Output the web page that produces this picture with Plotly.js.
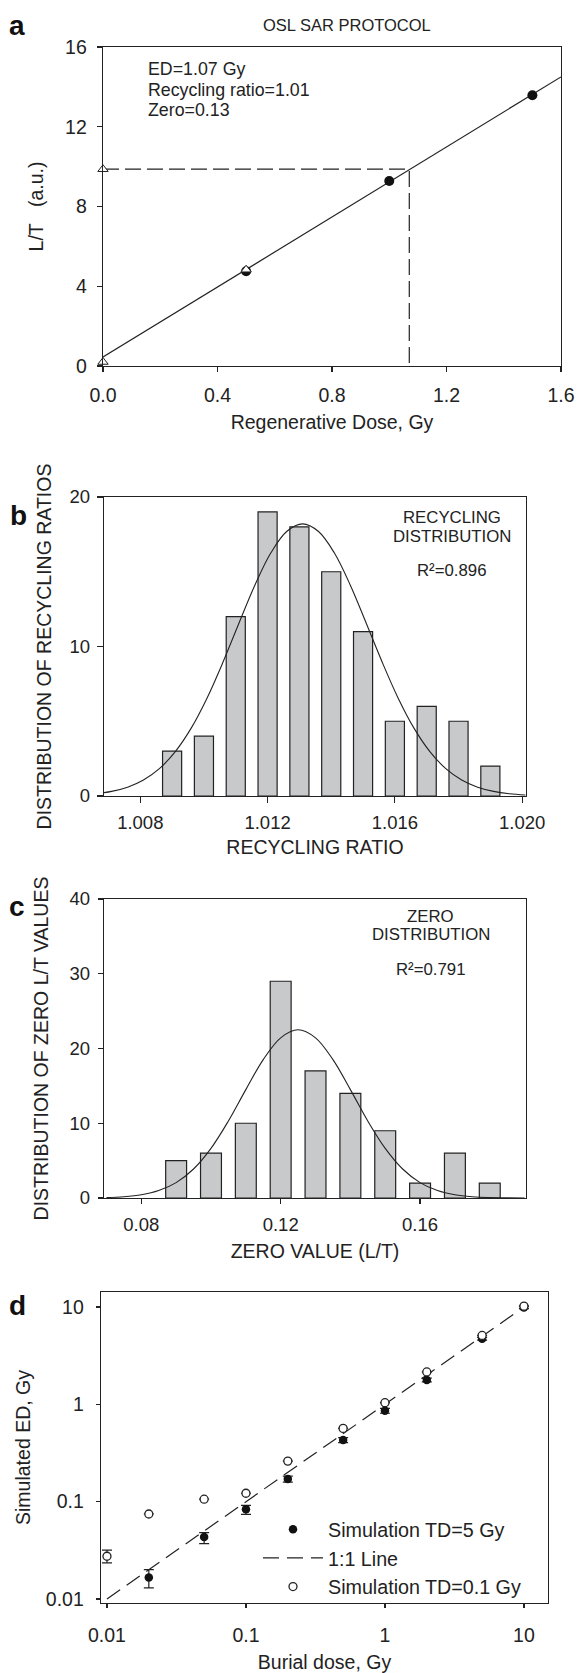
<!DOCTYPE html>
<html><head><meta charset="utf-8">
<script src="https://cdn.plot.ly/plotly-3.0.1.min.js"></script>
<style>html,body{margin:0;padding:0;background:#fff;} #chart{width:577px;height:1673px;}</style>
</head><body><div id="chart"></div>
<script>
// ---------- Panel a : OSL SAR protocol ----------
const regenDose = [0.5, 1.0, 1.5];
const regenLT = [4.75, 9.28, 13.58];
const checkDose = [0, 0.5, 0];
const checkLT = [0.2, 4.83, 9.87];
const fitDose = [0, 1.6];
const fitLT = [0.45, 14.5];
const edDose = 1.07;
const naturalLT = 9.87;
const panelAText = ['ED=1.07 Gy', 'Recycling ratio=1.01', 'Zero=0.13'];

// ---------- Panel b : recycling distribution ----------
const recyclingRatio = [1.009, 1.010, 1.011, 1.012, 1.013, 1.014, 1.015, 1.016, 1.017, 1.018, 1.019];
const recyclingCount = [3, 4, 12, 19, 18, 15, 11, 5, 6, 5, 2];
const recyclingFitX = [1.0066, 1.0071, 1.0076, 1.0081, 1.0086, 1.0091, 1.0096, 1.0101, 1.0106, 1.0111,
  1.0116, 1.0121, 1.0126, 1.0131, 1.0136, 1.0141, 1.0146, 1.0151, 1.0156, 1.0161, 1.0166, 1.0171,
  1.0176, 1.0181, 1.0186, 1.0191, 1.0196, 1.0201];
const recyclingFitY = [0.15, 0.31, 0.59, 1.07, 1.83, 2.97, 4.54, 6.56, 8.96, 11.56,
  14.10, 16.25, 17.69, 18.2, 17.69, 16.25, 14.10, 11.56, 8.96, 6.56, 4.54, 2.97,
  1.83, 1.07, 0.59, 0.31, 0.15, 0.07];

// ---------- Panel c : zero distribution ----------
const zeroValue = [0.09, 0.10, 0.11, 0.12, 0.13, 0.14, 0.15, 0.16, 0.17, 0.18];
const zeroCount = [5, 6, 10, 29, 17, 14, 9, 2, 6, 2];
const zeroFitX = [0.070, 0.075, 0.080, 0.085, 0.090, 0.095, 0.100, 0.105, 0.110, 0.115, 0.120, 0.125,
  0.130, 0.135, 0.140, 0.145, 0.150, 0.155, 0.160, 0.165, 0.170, 0.175, 0.180, 0.185, 0.190];
const zeroFitY = [0.06, 0.17, 0.43, 0.99, 2.06, 3.88, 6.64, 10.30, 14.50, 18.51, 21.43, 22.5,
  21.43, 18.51, 14.50, 10.30, 6.64, 3.88, 2.06, 0.99, 0.43, 0.17, 0.06, 0.02, 0.01];

// ---------- Panel d : simulated ED vs burial dose ----------
const burialTD5 = [0.02, 0.05, 0.1, 0.2, 0.5, 1, 2, 5, 10];
const edTD5 = [0.0166, 0.0433, 0.0834, 0.171, 0.429, 0.86, 1.78, 4.72, 9.9];
const edTD5ErrPlus = [0.0034, 0.0047, 0.0081, 0.012, 0.025, 0.05, 0.08, 0.15, 0.3];
const edTD5ErrMinus = [0.0036, 0.0063, 0.0093, 0.012, 0.025, 0.05, 0.08, 0.15, 0.3];
const burialTD01 = [0.01, 0.02, 0.05, 0.1, 0.2, 0.5, 1, 2, 5, 10];
const edTD01 = [0.0275, 0.0747, 0.106, 0.122, 0.261, 0.566, 1.04, 2.15, 5.1, 10.2];
const edTD01ErrPlus = [0.0043, 0, 0, 0, 0, 0, 0, 0, 0, 0];
const edTD01ErrMinus = [0.0040, 0, 0, 0, 0, 0, 0, 0, 0, 0];
const oneToOneX = [0.01, 10];
const oneToOneY = [0.01, 10];

// ---------- helpers / styles ----------
const W = 577, H = 1673;
const px = v => v / W;
const py = v => 1 - v / H;
const FONT = 'Liberation Sans, Arial, Helvetica, sans-serif';
const INK = '#222';
const BARFILL = '#c8c9cb';

function axisBase(extra) {
  return Object.assign({
    showgrid: false, zeroline: false, showline: true, mirror: true,
    linecolor: INK, linewidth: 1.3, ticks: 'outside', ticklen: 5, tickwidth: 1.2,
    tickcolor: INK, tickfont: {family: FONT, size: 19.5, color: INK},
    automargin: false, fixedrange: true
  }, extra);
}

const traces = [
  // panel a
  {x: fitDose, y: fitLT, xaxis: 'x', yaxis: 'y', mode: 'lines', line: {color: INK, width: 1.2}, showlegend: false, hoverinfo: 'skip'},
  {x: [0, edDose, edDose], y: [naturalLT, naturalLT, 0], xaxis: 'x', yaxis: 'y', mode: 'lines',
   line: {color: INK, width: 1.2, dash: '16px,6px'}, showlegend: false, hoverinfo: 'skip'},
  {x: regenDose, y: regenLT, xaxis: 'x', yaxis: 'y', mode: 'markers', cliponaxis: false,
   marker: {symbol: 'circle', size: 10, color: '#111'}, showlegend: false},
  {x: checkDose, y: checkLT, xaxis: 'x', yaxis: 'y', mode: 'markers', cliponaxis: false,
   marker: {symbol: 'triangle-up', size: 9, color: '#fff', line: {color: INK, width: 1}}, showlegend: false},
  // panel b
  {type: 'bar', x: recyclingRatio, y: recyclingCount, width: 0.0006, xaxis: 'x2', yaxis: 'y2',
   marker: {color: BARFILL, line: {color: INK, width: 1.2}}, showlegend: false},
  {x: recyclingFitX, y: recyclingFitY, xaxis: 'x2', yaxis: 'y2', mode: 'lines',
   line: {color: INK, width: 1.1, shape: 'spline'}, showlegend: false, hoverinfo: 'skip'},
  // panel c
  {type: 'bar', x: zeroValue, y: zeroCount, width: 0.006, xaxis: 'x3', yaxis: 'y3',
   marker: {color: BARFILL, line: {color: INK, width: 1.2}}, showlegend: false},
  {x: zeroFitX, y: zeroFitY, xaxis: 'x3', yaxis: 'y3', mode: 'lines',
   line: {color: INK, width: 1.1, shape: 'spline'}, showlegend: false, hoverinfo: 'skip'},
  // panel d
  {x: oneToOneX, y: oneToOneY, xaxis: 'x4', yaxis: 'y4', mode: 'lines', name: '1:1 Line', legendrank: 2,
   line: {color: INK, width: 1.2, dash: '16px,8px'}},
  {x: burialTD5, y: edTD5, xaxis: 'x4', yaxis: 'y4', mode: 'markers', name: 'Simulation TD=5 Gy', legendrank: 1,
   marker: {symbol: 'circle', size: 8.5, color: '#111'},
   error_y: {type: 'data', symmetric: false, array: edTD5ErrPlus, arrayminus: edTD5ErrMinus, color: INK, thickness: 1.2, width: 5}},
  {x: burialTD01, y: edTD01, xaxis: 'x4', yaxis: 'y4', mode: 'markers', name: 'Simulation TD=0.1 Gy', legendrank: 3,
   cliponaxis: false,
   marker: {symbol: 'circle', size: 8, color: '#fff', line: {color: INK, width: 1.3}},
   error_y: {type: 'data', symmetric: false, array: edTD01ErrPlus, arrayminus: edTD01ErrMinus, color: INK, thickness: 1.2, width: 5}}
];

const annFont = s => ({family: FONT, size: s, color: INK});
const letterFont = {family: FONT, size: 28, color: '#111', weight: 'bold'};
function letter(t, x, y) {
  return {text: t, x: px(x), y: py(y), xref: 'paper', yref: 'paper', xanchor: 'center', yanchor: 'middle',
          showarrow: false, font: letterFont};
}
const annotations = [
  // panel letters
  letter('a', 17, 25), letter('b', 18, 515), letter('c', 17, 907), letter('d', 17, 1305),
  // panel a title and notes
  {text: 'OSL SAR PROTOCOL', x: px(347), y: py(25), xref: 'paper', yref: 'paper', xanchor: 'center', yanchor: 'middle',
   showarrow: false, font: annFont(16.5)},
  {text: panelAText[0], x: 0.1495, y: 14.88, xref: 'x', yref: 'y', xanchor: 'left', yanchor: 'middle', showarrow: false, font: annFont(17.8)},
  {text: panelAText[1], x: 0.1495, y: 13.84, xref: 'x', yref: 'y', xanchor: 'left', yanchor: 'middle', showarrow: false, font: annFont(17.8)},
  {text: panelAText[2], x: 0.1495, y: 12.84, xref: 'x', yref: 'y', xanchor: 'left', yanchor: 'middle', showarrow: false, font: annFont(17.8)},
  // panel b notes
  {text: 'RECYCLING', x: 1.0178, y: 18.6, xref: 'x2', yref: 'y2', showarrow: false, font: annFont(16.8)},
  {text: 'DISTRIBUTION', x: 1.0178, y: 17.39, xref: 'x2', yref: 'y2', showarrow: false, font: annFont(16.8)},
  {text: 'R\u00B2=0.896', x: 1.0178, y: 15.05, xref: 'x2', yref: 'y2', showarrow: false, font: annFont(16.8)},
  // panel c notes
  {text: 'ZERO', x: 0.1631, y: 37.6, xref: 'x3', yref: 'y3', showarrow: false, font: annFont(16.8)},
  {text: 'DISTRIBUTION', x: 0.1631, y: 35.3, xref: 'x3', yref: 'y3', showarrow: false, font: annFont(16.8)},
  {text: 'R\u00B2=0.791', x: 0.1631, y: 30.6, xref: 'x3', yref: 'y3', showarrow: false, font: annFont(16.8)}
];

const titleFont = {family: FONT, size: 19.5, color: INK};
const layout = {
  width: W, height: H,
  margin: {l: 0, r: 0, t: 0, b: 0},
  paper_bgcolor: '#fff', plot_bgcolor: '#fff',
  font: {family: FONT, color: INK},
  showlegend: true,
  bargap: 0,
  legend: {x: px(258), y: py(1510), xanchor: 'left', yanchor: 'top', bgcolor: 'rgba(0,0,0,0)',
           borderwidth: 0, itemwidth: 60, font: {family: FONT, size: 19.7, color: INK}, traceorder: 'normal'},
  // panel a
  xaxis: axisBase({domain: [px(103), px(561)], anchor: 'y', range: [0, 1.6],
    tickvals: [0, 0.4, 0.8, 1.2, 1.6], ticktext: ['0.0', '0.4', '0.8', '1.2', '1.6'], ticklabelstandoff: 6,
    title: {text: 'Regenerative Dose, Gy', font: titleFont, standoff: 10}}),
  yaxis: axisBase({domain: [py(366), py(47)], anchor: 'x', range: [0, 16], tickvals: [0, 4, 8, 12, 16], ticklabelstandoff: 6,
    title: {text: 'L/T\u00A0\u00A0\u00A0(a.u.)', font: titleFont, standoff: 16}}),
  // panel b
  xaxis2: axisBase({domain: [px(104), px(526)], anchor: 'y2', range: [1.00686, 1.02012],
    tickvals: [1.008, 1.012, 1.016, 1.020], ticktext: ['1.008', '1.012', '1.016', '1.020'], ticklen: 6,
    tickfont: {family: FONT, size: 18.5, color: INK}, ticklabelstandoff: 3,
    title: {text: 'RECYCLING RATIO', font: titleFont, standoff: 8}}),
  yaxis2: axisBase({domain: [py(796), py(497)], anchor: 'x2', range: [0, 20], tickvals: [0, 10, 20], ticklen: 6,
    tickfont: {family: FONT, size: 18.5, color: INK}, ticklabelstandoff: 3,
    title: {text: 'DISTRIBUTION OF RECYCLING RATIOS', font: titleFont, standoff: 12}}),
  // panel c
  xaxis3: axisBase({domain: [px(104), px(526)], anchor: 'y3', range: [0.0693, 0.1904],
    tickvals: [0.08, 0.12, 0.16], ticktext: ['0.08', '0.12', '0.16'],
    tickfont: {family: FONT, size: 18.5, color: INK}, ticklabelstandoff: 4,
    title: {text: 'ZERO VALUE (L/T)', font: titleFont, standoff: 10}}),
  yaxis3: axisBase({domain: [py(1198), py(899)], anchor: 'x3', range: [0, 40], tickvals: [0, 10, 20, 30, 40],
    tickfont: {family: FONT, size: 18.5, color: INK}, ticklabelstandoff: 4,
    title: {text: 'DISTRIBUTION OF ZERO L/T VALUES', font: titleFont, standoff: 15}}),
  // panel d
  xaxis4: axisBase({domain: [px(101), px(548)], anchor: 'y4', type: 'log', range: [-2.043, 1.173],
    tickvals: [0.01, 0.1, 1, 10], ticktext: ['0.01', '0.1', '1', '10'], ticklen: 4, ticklabelstandoff: 10,
    title: {text: 'Burial dose, Gy', font: titleFont, standoff: 14}}),
  yaxis4: axisBase({domain: [py(1603), py(1292)], anchor: 'x4', type: 'log', range: [-2.041, 1.154],
    tickvals: [0.01, 0.1, 1, 10], ticktext: ['0.01', '0.1', '1', '10'], ticklen: 4, ticklabelstandoff: 8,
    title: {text: 'Simulated ED, Gy', font: titleFont, standoff: 10}}),
  annotations: annotations
};

Plotly.newPlot('chart', traces, layout, {staticPlot: true, displayModeBar: false});
</script>
</body></html>
